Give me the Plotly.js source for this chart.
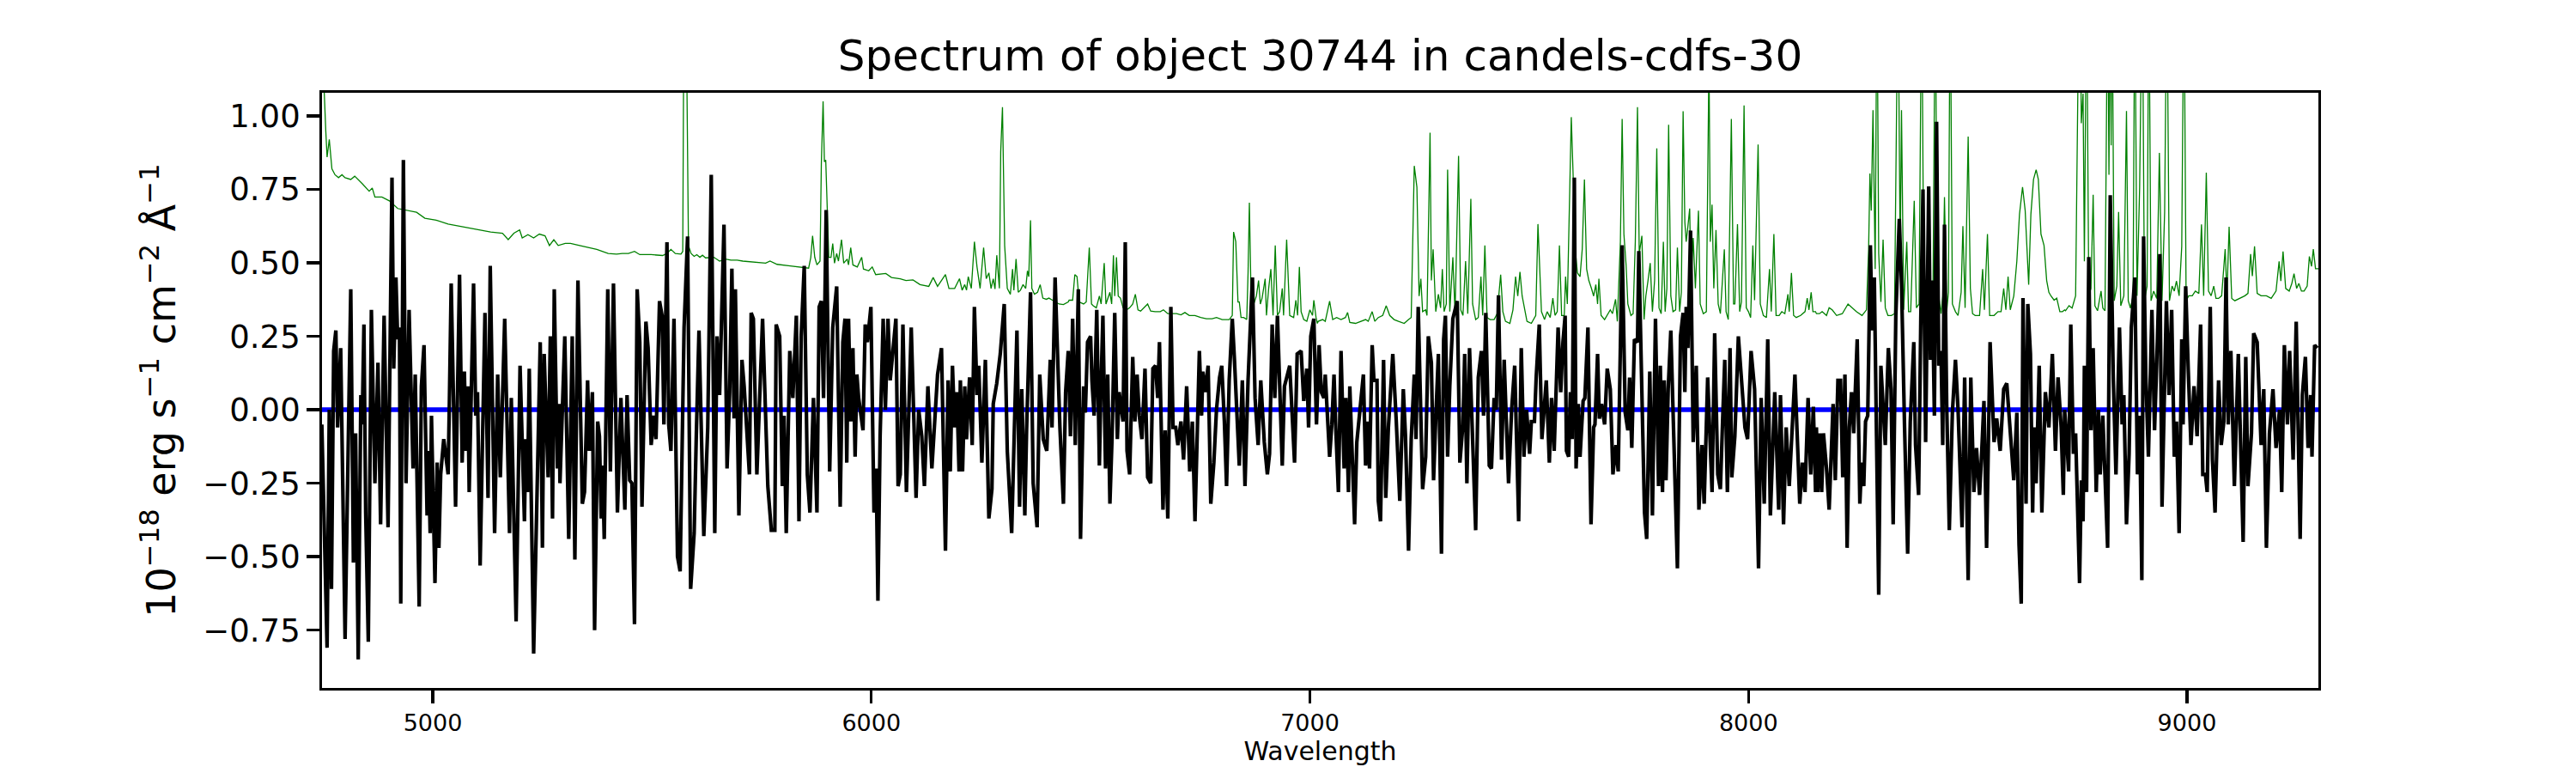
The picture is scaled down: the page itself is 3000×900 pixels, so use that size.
<!DOCTYPE html>
<html>
<head>
<meta charset="utf-8">
<script src="https://cdn.plot.ly/plotly-3.0.1.min.js"></script>
<style>html,body{margin:0;padding:0;background:#fff;}#chart{width:3000px;height:900px;}</style>
</head>
<body>
<div id="chart"></div>
<script>
// ---- data ----
const titleText = "Spectrum of object 30744 in candels-cdfs-30";
const xTickVals = [5000, 6000, 7000, 8000, 9000];
const yTickVals = [-0.75, -0.5, -0.25, 0, 0.25, 0.5, 0.75, 1.0];

// zero-level model (blue)
const modelWave = [4747, 9300];
const modelFlux = [0, 0];

// observed flux (black)
const fluxWave = [
4747,4759,4764,4769,4774,4779,4783,4790,4800,4807,
4813,4819,4824,4830,4836,4839,4843,4847,4853,4860,
4868,4875,4881,4889,4898,4907,4911,4916,4920,4924,
4927,4933,4939,4946,4955,4960,4969,4974,4980,4987,
4990,4994,4997,5005,5010,5014,5018,5025,5035,5038,
5042,5052,5061,5067,5072,5076,5080,5083,5093,5098,
5102,5108,5119,5126,5131,5141,5148,5154,5164,5175,
5179,5190,5199,5209,5212,5216,5220,5230,5245,5250,
5254,5263,5268,5273,5277,5284,5288,5290,5301,5310,
5318,5324,5331,5341,5346,5353,5357,5364,5369,5376,
5380,5384,5387,5391,5399,5405,5412,5421,5429,5438,
5443,5449,5454,5460,5466,5472,5477,5486,5491,5498,
5504,5509,5517,5523,5527,5534,5538,5543,5550,5558,
5564,5573,5581,5588,5596,5601,5607,5618,5627,5635,
5643,5648,5654,5664,5671,5677,5682,5687,5690,5698,
5705,5710,5714,5722,5726,5731,5739,5752,5764,5772,
5780,5783,5791,5797,5801,5806,5814,5821,5829,5835,
5840,5847,5854,5860,5868,5876,5881,
5886,5891,5897,5905,5912,5921,5929,5935,5940,5944,
5948,5953,5958,5963,5967,5971,5981,5986,5991,5999,
6006,6011,6015,6020,6027,6032,6038,6043,6049,6056,
6061,6066,6072,6080,6091,6102,6108,6115,6121,6129,
6138,6143,6151,6160,6169,6175,6180,6185,6190,6195,
6200,6203,6208,6213,6217,6224,6230,6235,6241,6245,
6252,6260,6268,6275,6278,6286,6294,6303,6310,6320,
6332,6338,6343,6350,6354,6363,6369,6378,6384,6392,
6400,6408,6412,6419,6430,6438,6443,6449,
6454,6459,6465,6472,6477,6484,6488,6493,6500,6503,
6508,6514,6520,6523,6528,6534,6539,6544,6549,6555,
6561,6565,6574,6579,6583,6589,6596,6601,6606,6611,
6617,6624,6630,6637,6642,6648,6653,6657,6665,6670,
6676,6683,6688,6694,6699,6706,6712,6719,6726,6732,
6738,6748,6753,6756,6761,6768,6774,6781,6787,6794,
6799,6805,6810,6816,6823,6828,6833,6839,6846,6852,
6859,6869,6875,6882,6888,6896,6903,6908,6914,6920,
6926,6931,6937,6942,6954,6965,6971,6980,6986,6993,
6997,7002,7009,7015,
7021,7026,7032,7035,7045,7050,7055,7059,7065,7071,
7078,7082,7088,7091,7102,7107,7116,7122,7127,7131,
7136,7142,7146,7153,7156,7161,7168,7173,7179,7189,
7197,7205,7213,7218,7225,7231,7238,7242,7247,7253,
7257,7264,7270,7277,7282,7287,7293,7300,7305,7309,
7314,7319,7326,7331,7336,7342,7349,7353,7358,7364,
7371,7378,7384,7391,7396,7401,7409,7414,7420,7425,
7430,7437,7443,7453,7460,7467,7476,7482,7488,7494,
7501,7505,7512,7516,7523,7529,7539,7546,7551,7557,
7566,7572,7577,7582,7585,
7590,7594,7598,7603,7607,7612,7616,7623,7627,7634,
7641,7647,7650,7656,7660,7665,7672,7678,7685,7691,
7698,7703,7708,7712,7719,7725,7729,7734,7740,7747,
7750,7755,7763,7768,7775,7781,7788,7795,7799,7804,
7808,7812,7817,7823,7830,7838,7845,7851,7855,7858,
7862,7868,7874,7881,7887,7894,7899,7907,7917,7923,
7930,7936,7941,7946,7952,7958,7962,7969,7977,7985,
7992,7998,8006,8014,8023,8029,8036,8044,8050,8060,
8069,8073,8080,8086,8093,8106,8117,8123,8129,8136,
8142,8148,8153,
8155,8158,8163,8167,8171,8178,8184,8193,8198,8204,
8210,8215,8220,8225,8230,8235,8240,8248,8254,8258,
8263,8267,8272,8278,8282,8287,8292,8297,8302,8306,
8312,8319,8325,8330,8336,8344,8349,8356,8363,8369,
8377,8381,8388,8393,8398,8404,8411,8415,8419,8424,
8429,8434,8439,8443,8447,8452,8458,8465,8472,8478,
8487,8493,8501,8507,8514,8520,8527,8532,8537,8543,
8551,8560,8566,8574,8582,8589,8597,8605,8612,8617,
8622,8626,8633,8637,8643,8648,8651,8656,8663,8669,
8677,8685,8693,8700,8706,8713,8718,8721,
8726,8730,8735,8741,8746,8751,8755,8759,8763,8766,
8771,8776,8781,8786,8789,8793,8798,8802,8808,8813,
8819,8825,8832,8838,8846,8852,8856,8862,8868,8873,
8881,8887,8892,8897,8901,8906,8912,8920,8926,8931,
8938,8943,8949,8953,8959,8965,8971,8976,8982,8988,
8991,8997,9003,9009,9016,9023,9031,9036,9042,9046,
9053,9058,9064,9072,9078,9084,9089,9094,9100,9108,
9117,9123,9128,9134,9139,9147,9152,9160,9169,9175,
9181,9188,9196,9203,9211,9216,9222,9229,9234,9242,
9249,9258,9263,9270,9276,9282,9285,9291,9297
];
const fluxValues = [
-0.05,-0.81,0.00,-0.61,0.20,0.27,-0.06,0.21,-0.78,-0.06,
0.41,-0.52,-0.08,-0.85,0.05,-0.05,0.29,-0.35,-0.79,0.34,
-0.25,0.16,-0.39,0.32,-0.40,0.79,0.14,0.45,0.24,0.28,
-0.66,0.85,-0.25,0.34,-0.20,0.12,-0.67,0.08,0.22,-0.36,
-0.14,-0.42,-0.02,-0.59,-0.18,-0.47,-0.22,-0.10,-0.22,0.04,
0.43,-0.33,0.46,-0.18,0.13,-0.14,0.08,-0.28,0.43,-0.02,
0.06,-0.53,0.33,-0.30,0.49,-0.42,0.12,-0.23,0.31,-0.42,
0.04,-0.72,0.15,-0.38,-0.10,-0.28,0.14,-0.83,0.23,-0.47,
0.19,-0.23,0.25,-0.37,0.41,-0.20,0.02,-0.25,0.25,-0.44,
0.25,-0.51,0.44,-0.32,-0.28,0.10,-0.14,0.06,-0.75,-0.04,
-0.09,-0.37,-0.19,-0.44,0.41,-0.21,0.43,-0.35,0.04,-0.34,
0.05,-0.24,-0.25,-0.73,0.41,0.23,-0.33,0.30,0.21,-0.12,
-0.02,-0.10,0.37,0.32,-0.05,0.57,-0.05,-0.14,0.31,-0.50,
-0.55,0.28,0.59,-0.61,-0.42,-0.08,0.27,-0.43,-0.06,0.80,
-0.42,0.25,0.05,0.63,-0.20,0.06,0.48,-0.03,0.41,-0.36,
0.17,0.08,-0.04,-0.22,0.33,0.31,-0.22,0.31,-0.26,-0.41,
-0.41,0.29,0.25,-0.26,-0.02,-0.42,0.20,0.04,0.32,-0.38,
0.25,0.49,-0.22,-0.35,0.04,-0.35,0.35,
0.37,0.04,0.68,-0.21,0.28,0.42,-0.33,0.23,0.31,-0.18,
0.31,-0.04,0.21,-0.16,0.12,0.04,-0.07,0.29,0.23,0.35,
-0.35,-0.20,-0.65,-0.09,0.31,0.00,0.31,0.10,0.21,0.31,
-0.26,-0.22,0.29,-0.28,0.28,-0.30,0.00,-0.09,-0.26,0.08,
-0.20,-0.09,0.12,0.21,-0.48,0.10,-0.21,0.15,-0.06,0.06,
-0.21,0.10,-0.21,0.08,-0.10,0.11,-0.12,0.35,0.05,0.15,
-0.18,0.17,-0.37,-0.27,0.02,0.09,0.19,0.36,-0.14,-0.42,
0.27,-0.33,0.07,-0.36,-0.07,0.40,-0.25,-0.40,0.12,-0.10,
-0.14,0.17,-0.06,0.45,-0.06,-0.32,0.06,0.20,
-0.09,0.31,-0.12,0.41,-0.44,0.08,-0.01,0.23,0.25,0.10,
-0.02,0.34,-0.19,0.04,0.32,-0.20,0.12,-0.32,-0.09,0.33,
-0.10,0.06,-0.04,0.57,-0.14,-0.22,0.18,-0.04,0.12,-0.02,
-0.10,0.14,-0.23,-0.25,0.14,0.15,0.04,0.23,-0.34,-0.07,
-0.37,0.35,-0.06,-0.06,-0.12,-0.04,-0.17,0.08,-0.21,-0.04,
-0.38,0.20,-0.02,0.13,0.06,0.15,-0.32,-0.18,0.00,0.11,
0.15,-0.04,-0.26,0.10,0.31,0.17,0.00,-0.19,0.10,-0.26,
0.10,0.45,0.04,-0.12,0.10,-0.11,-0.22,-0.15,0.29,0.04,
0.32,0.04,-0.19,0.08,0.15,-0.18,0.19,0.20,0.03,0.14,
-0.06,0.25,0.31,-0.05,
0.22,0.06,0.04,0.12,-0.16,-0.05,0.12,-0.06,-0.28,0.20,
-0.20,0.04,-0.28,0.08,-0.39,-0.11,0.02,0.12,-0.19,-0.04,
-0.20,0.22,0.10,0.10,-0.31,-0.38,0.17,-0.30,-0.06,0.19,
-0.04,-0.31,0.07,-0.09,-0.48,-0.10,0.12,-0.10,0.35,-0.06,
-0.27,-0.16,0.25,0.16,-0.24,-0.03,0.19,-0.49,0.24,0.32,
-0.16,0.08,0.31,0.34,0.37,-0.18,-0.05,0.19,-0.25,0.21,
-0.10,-0.41,0.11,0.20,-0.02,0.33,-0.19,-0.20,0.04,0.00,
0.39,-0.17,0.17,-0.25,0.00,0.15,-0.38,0.21,-0.16,0.00,
-0.15,-0.04,-0.04,0.11,0.29,-0.10,0.10,-0.18,0.04,-0.14,
0.28,0.06,0.23,0.32,-0.14,
-0.16,0.06,-0.10,0.79,-0.20,0.02,-0.16,0.03,0.04,0.28,
-0.39,-0.06,-0.05,0.19,-0.03,0.02,-0.05,0.14,0.07,-0.22,
-0.12,-0.21,0.28,0.56,-0.01,-0.07,0.11,-0.13,0.24,0.23,
0.54,0.19,-0.35,-0.44,0.13,-0.36,0.31,-0.26,0.15,-0.28,
0.10,-0.24,0.07,0.27,-0.12,-0.54,0.25,0.33,0.06,0.35,
0.21,0.61,-0.11,0.15,-0.34,-0.12,-0.32,0.11,-0.28,0.26,
-0.22,-0.27,-0.04,0.17,-0.28,0.21,-0.23,-0.09,0.25,0.08,
-0.06,-0.10,0.20,0.07,-0.54,0.04,-0.32,0.24,-0.36,0.06,
-0.34,0.05,-0.39,-0.06,-0.26,0.12,-0.32,-0.18,-0.28,0.04,
-0.22,0.01,-0.28,
-0.06,-0.28,-0.08,-0.28,-0.08,-0.20,-0.34,0.02,-0.24,0.10,
0.10,-0.23,0.12,-0.47,-0.06,0.06,-0.08,0.24,-0.32,-0.18,
-0.26,-0.04,-0.02,0.56,0.27,0.45,-0.09,-0.63,0.15,0.02,
-0.12,0.21,0.07,-0.39,0.32,0.65,0.43,-0.06,-0.49,-0.04,
0.23,-0.12,-0.29,0.31,0.75,-0.11,0.76,0.17,0.44,-0.02,
0.98,0.15,0.20,-0.12,0.63,0.02,-0.41,-0.01,0.17,0.00,
-0.40,0.11,-0.58,0.11,-0.28,-0.13,-0.29,-0.14,0.03,-0.47,
0.23,-0.11,-0.03,-0.14,0.07,0.09,-0.09,-0.24,-0.01,-0.46,
-0.66,0.38,-0.32,0.36,0.19,-0.35,-0.06,-0.25,0.15,-0.35,
0.06,-0.06,0.19,-0.14,0.11,-0.06,-0.29,0.00,
-0.11,-0.21,0.29,-0.15,-0.08,-0.37,-0.59,-0.24,-0.38,0.15,
-0.28,0.52,-0.07,0.21,-0.07,-0.28,0.00,-0.22,-0.02,-0.22,
-0.47,0.73,0.10,-0.22,0.28,-0.05,0.05,-0.39,-0.15,0.28,
0.45,-0.22,-0.02,-0.58,0.59,0.12,-0.16,0.34,-0.07,0.16,
0.53,-0.33,0.19,0.37,0.05,0.34,-0.16,-0.04,-0.42,0.24,
-0.05,0.42,0.13,-0.12,0.08,-0.09,0.29,-0.22,-0.22,-0.28,
0.35,-0.17,-0.35,0.10,-0.12,-0.04,0.45,-0.05,0.20,-0.26,
0.19,-0.17,-0.45,0.18,-0.26,-0.08,0.26,0.23,-0.12,0.07,
-0.47,-0.08,0.07,-0.13,0.00,-0.28,0.22,-0.05,0.20,-0.17,
0.30,-0.44,0.05,0.18,-0.13,0.05,-0.16,0.22,0.21
];

// noise / sky spectrum (green)
const noiseWave = [
4747,4752,4756,4759,4764,4770,4777,4785,4793,4800,
4813,4822,4839,4855,4862,4868,4884,4901,4920,4943,
4963,4982,5008,5035,5061,5087,5113,5132,5159,5172,
5185,5198,5204,5217,5230,5243,5256,5266,5276,5286,
5302,5314,
5335,5354,5374,5400,5419,5432,5446,5460,5472,5498,
5524,5534,5543,5553,5566,5570,5573,5575,5577,5583,
5589,5596,5602,5609,5615,5622,5632,5641,5654,5667,
5680,5694,5707,5733,5759,5769,5785,5811,5837,5857,
5862,5866,5871,5876,
5883,5886,5890,5893,5896,5899,5903,5908,5912,5916,
5921,5925,5932,5937,5945,5948,5953,5958,5968,5978,
5982,5994,6002,6010,6033,6046,6066,6079,6095,6111,
6131,6141,6151,6169,6177,6190,6201,6207,6213,6217,
6221,6228,6235,6241,6245,6248,6256,6262,6268,6273,
6278,6282,6286,6292,6295,6299,6304,6310,6317,6322,
6325,6330,6335,6340,6346,6352,6356,6359,6363,6366,
6372,6379,6385,6391,6399,6405,6413,6421,6428,6438,
6449,
6451,6459,6464,6469,6474,6484,6490,6497,6502,6506,
6513,6520,6524,6531,6535,6539,6544,6548,6552,6555,
6559,6563,6568,6574,6582,6589,6596,6602,6608,6614,
6622,6630,6637,6647,6659,6666,6676,6686,6696,6706,
6715,6725,6738,6751,6764,6777,6787,6800,6816,6823,
6826,6831,6836,6839,6843,6849,6856,6859,6862,6866,
6872,6878,6883,6887,6891,6898,6901,6906,6911,6916,
6921,6926,6931,6937,6940,6947,6954,6963,6968,6972,
6976,6980,6986,6993,7000,7006,7009,7014,7017,
7019,7029,7035,7045,7052,7061,7071,7081,7086,7091,
7104,7117,7127,7133,7142,7148,7156,7166,7174,7182,
7192,7202,7215,7225,7231,7238,7244,7249,7253,7257,
7264,7267,7274,7277,7281,7287,7293,7298,7302,7306,
7311,7314,7319,7326,7331,7339,7344,7349,7355,7360,
7367,7371,7378,7384,7390,7394,7399,7404,7411,7420,
7427,7435,7440,7446,7456,7463,7469,7474,7479,7484,
7489,7495,7505,7515,7520,7525,7528,7535,7541,7548,
7554,7559,7564,7569,7574,7580,7583,
7587,7592,7596,7600,7605,7610,7616,7621,7626,7631,
7636,7642,7647,7652,7656,7659,7664,7672,7678,7685,
7690,7697,7701,7708,7712,7716,7721,7725,7732,7737,
7742,7747,7751,7757,7762,7766,7771,7776,7781,7786,
7791,7796,7801,7806,7810,7814,7818,7823,7828,7834,
7838,7843,7847,7851,7855,7858,7862,7866,7869,7874,
7879,7886,7890,7897,7904,7907,7910,7913,7917,7921,
7926,7931,7936,7945,7949,7954,7961,7966,7969,7975,
7980,7984,7990,7995,8000,8005,8010,8014,8022,8027,
8034,8041,8048,8052,8058,8063,8070,8076,8083,8090,
8093,8098,8103,8109,8119,8129,8134,8138,8143,8147,
8153,
8155,8162,8168,8178,8184,8191,8201,8214,8227,8237,
8246,8259,8269,8274,8277,8280,8284,8289,8293,8297,
8302,8307,8312,8318,8326,8333,8338,8341,8346,8349,
8354,8361,8365,8370,8378,8383,8389,8395,8400,8406,
8411,8416,8421,8426,8430,8434,8439,8443,8447,8452,
8456,8460,8465,8472,8478,8485,8489,8494,8501,8506,
8511,8517,8527,8534,8538,8545,8550,8560,8569,8576,
8582,8587,8592,8597,8605,8612,8618,8625,8631,8639,
8644,8650,8656,8661,8667,8674,8680,8685,8690,8697,
8703,8710,8716,8721,
8723,8731,8738,8746,8751,8756,8759,8763,8766,8771,
8776,8781,8786,8790,8796,8804,8808,8813,8819,8822,
8825,8827,8829,8834,8840,8844,8849,8856,8862,8866,
8871,8877,8881,8886,8892,8898,8903,8909,8913,8918,
8924,8931,8937,8943,8949,8954,8960,8966,8971,8976,
8982,8988,8993,8998,9004,9012,9019,9027,9033,9038,
9044,9049,9055,9061,9066,9072,9079,9087,9091,9096,
9102,9109,9121,9132,9139,9145,9149,9154,9160,9169,
9181,9192,9203,9210,9214,9219,9225,9233,9239,9244,
9250,9255,9261,9267,9274,9279,9284,9288,9293,9300
];
const noiseValues = [
1.5,1.1,0.95,0.86,0.92,0.82,0.80,0.79,0.80,0.79,
0.784,0.795,0.77,0.744,0.755,0.724,0.724,0.711,0.685,0.678,
0.672,0.652,0.645,0.632,0.625,0.619,0.612,0.605,0.601,0.579,
0.601,0.612,0.585,0.596,0.585,0.598,0.592,0.559,0.579,0.559,
0.566,0.566,
0.559,0.552,0.546,0.532,0.530,0.532,0.532,0.539,0.528,0.528,
0.525,0.532,0.546,0.532,0.530,0.539,1.5,1.2,1.5,0.559,
0.532,0.522,0.528,0.519,0.526,0.517,0.519,0.519,0.506,0.513,
0.509,0.509,0.506,0.503,0.499,0.506,0.495,0.490,0.486,0.482,
0.519,0.592,0.519,0.493,
0.506,0.837,1.05,0.844,0.85,0.705,0.519,0.519,0.566,0.499,
0.532,0.506,0.579,0.499,0.513,0.493,0.552,0.493,0.486,0.519,
0.479,0.473,0.486,0.460,0.464,0.450,0.446,0.440,0.442,0.426,
0.420,0.450,0.420,0.460,0.413,0.413,0.446,0.407,0.426,0.407,
0.453,0.413,0.572,0.486,0.440,0.413,0.552,0.446,0.466,0.413,
0.446,0.411,0.526,0.413,0.877,1.03,0.559,0.413,0.393,0.479,
0.407,0.513,0.400,0.407,0.426,0.413,0.473,0.453,0.645,0.413,
0.393,0.400,0.426,0.380,0.376,0.380,0.373,0.367,0.360,0.358,
0.367,
0.373,0.373,0.460,0.453,0.367,0.360,0.367,0.552,0.360,0.354,
0.347,0.387,0.360,0.499,0.360,0.380,0.400,0.360,0.526,0.387,
0.519,0.387,0.380,0.347,0.340,0.347,0.360,0.393,0.340,0.336,
0.347,0.360,0.336,0.334,0.334,0.340,0.327,0.327,0.327,0.323,
0.331,0.321,0.321,0.314,0.310,0.310,0.314,0.307,0.307,0.321,
0.605,0.572,0.367,0.367,0.314,0.314,0.307,0.466,0.705,0.373,
0.360,0.387,0.440,0.360,0.380,0.446,0.321,0.413,0.479,0.321,
0.559,0.321,0.334,0.413,0.321,0.579,0.321,0.314,0.373,0.321,
0.486,0.334,0.307,0.301,0.340,0.321,0.373,0.314,0.294,
0.301,0.307,0.301,0.370,0.307,0.314,0.307,0.314,0.331,0.297,
0.294,0.301,0.307,0.301,0.334,0.301,0.314,0.321,0.354,0.321,
0.307,0.301,0.294,0.307,0.314,0.830,0.758,0.387,0.446,0.334,
0.340,0.321,0.943,0.440,0.546,0.334,0.393,0.347,0.479,0.334,
0.360,0.817,0.334,0.519,0.327,0.864,0.340,0.321,0.506,0.327,
0.718,0.360,0.307,0.314,0.453,0.321,0.559,0.314,0.307,0.307,
0.327,0.460,0.334,0.301,0.294,0.340,0.453,0.387,0.469,0.387,
0.347,0.301,0.294,0.321,0.632,0.413,0.334,0.307,0.334,0.314,
0.380,0.321,0.334,0.559,0.321,0.321,0.453,
0.360,0.678,0.996,0.810,0.546,0.466,0.453,0.546,0.784,0.479,
0.440,0.413,0.387,0.426,0.360,0.446,0.321,0.307,0.321,0.340,
0.327,0.376,0.301,0.572,0.990,0.598,0.493,0.360,0.321,0.327,
0.572,1.03,0.532,0.592,0.307,0.387,0.440,0.499,0.334,0.440,
0.890,0.347,0.327,0.572,0.334,0.413,0.970,0.387,0.334,0.340,
0.552,0.334,0.400,1.016,0.638,0.572,0.625,0.685,0.426,0.585,
0.413,0.678,0.360,0.327,0.334,0.665,1.2,0.572,0.698,0.413,
0.612,0.360,0.327,0.546,0.334,0.307,0.990,0.360,0.360,0.632,
0.334,0.367,1.036,0.347,0.334,0.314,0.559,0.373,0.903,0.360,
0.321,0.314,0.479,0.334,0.598,0.321,0.321,0.334,0.327,0.393,
0.334,0.466,0.321,0.314,0.321,0.334,0.380,0.340,0.400,0.334,
0.334,
0.327,0.327,0.334,0.321,0.347,0.340,0.321,0.327,0.360,0.347,
0.334,0.321,0.340,0.546,0.804,0.678,1.02,0.479,1.5,0.532,
0.367,0.579,0.347,0.321,0.321,0.327,0.877,1.5,0.519,1.02,
0.340,0.572,0.334,0.334,0.711,0.347,0.360,1.5,0.360,0.440,
0.758,0.387,0.440,1.5,0.506,0.387,0.327,0.387,0.724,0.334,
0.400,1.5,0.360,0.334,0.321,0.400,0.625,0.347,0.930,0.413,
0.327,0.321,0.321,0.479,0.340,0.598,0.321,0.321,0.334,0.334,
0.413,0.340,0.453,0.340,0.387,0.506,0.665,0.758,0.678,0.426,
0.665,0.784,0.817,0.784,0.598,0.559,0.440,0.400,0.387,0.373,
0.380,0.334,0.334,0.340,
0.337,0.354,0.346,0.388,1.076,1.5,0.975,1.076,0.505,1.5,
0.388,0.413,0.732,0.354,0.337,0.404,0.346,0.337,1.5,0.8,
1.5,0.9,1.5,0.371,0.421,0.673,0.354,0.388,1.017,0.371,
0.346,0.388,1.5,0.388,0.757,1.5,0.371,0.421,1.5,0.371,
0.404,0.379,0.874,0.371,0.673,1.5,0.371,0.421,0.404,0.438,
0.388,0.556,1.5,0.371,0.388,0.388,0.404,0.396,0.631,0.388,
0.807,0.404,0.388,0.421,0.379,0.379,0.388,0.547,0.388,0.623,
0.379,0.371,0.379,0.388,0.396,0.530,0.455,0.556,0.396,0.388,
0.388,0.379,0.404,0.505,0.438,0.539,0.413,0.404,0.430,0.463,
0.413,0.430,0.404,0.404,0.421,0.522,0.488,0.547,0.480,0.480
];

// ---- chart ----
const FONT = "DejaVu Sans, Verdana, sans-serif";
const traces = [
  {x: modelWave, y: modelFlux, type: "scatter", mode: "lines",
   line: {color: "#0000ff", width: 5.5}, hoverinfo: "skip"},
  {x: noiseWave, y: noiseValues, type: "scatter", mode: "lines",
   line: {color: "#008000", width: 1.3}, hoverinfo: "skip"},
  {x: fluxWave, y: fluxValues, type: "scatter", mode: "lines",
   line: {color: "#000000", width: 4.2}, hoverinfo: "skip"}
];

const layout = {
  width: 3000, height: 900,
  margin: {l: 375, r: 300, t: 108, b: 99, pad: 0},
  paper_bgcolor: "#ffffff", plot_bgcolor: "#ffffff",
  showlegend: false,
  font: {family: FONT, color: "#000000"},
  title: {
    text: titleText,
    font: {family: FONT, size: 50, color: "#000000"},
    x: 0.5125, xref: "container", xanchor: "center",
    y: 1 - 64 / 900, yref: "container", yanchor: "middle"
  },
  xaxis: {
    range: [4747.4, 9299.6],
    tickmode: "array", tickvals: xTickVals,
    ticks: "outside", ticklen: 14.6, tickwidth: 3.3, tickcolor: "#000",
    showline: true, linewidth: 3.3, linecolor: "#000", mirror: true,
    showgrid: false, zeroline: false,
    tickfont: {family: FONT, size: 27, color: "#000"},
    title: {text: "Wavelength", font: {family: FONT, size: 30, color: "#000"}, standoff: 6},
    automargin: false
  },
  yaxis: {
    range: [-0.947, 1.079],
    tickmode: "array", tickvals: yTickVals, tickformat: ".2f",
    ticks: "outside", ticklen: 14.6, tickwidth: 3.3, tickcolor: "#000",
    showline: true, linewidth: 3.3, linecolor: "#000", mirror: true,
    showgrid: false, zeroline: false,
    tickfont: {family: FONT, size: 37, color: "#000"},
    title: {text: "10<sup>−18</sup> erg s<sup>−1</sup> cm<sup>−2</sup> Å<sup>−1</sup>",
            font: {family: FONT, size: 46, color: "#000"}, standoff: 18},
    automargin: false
  }
};

Plotly.newPlot("chart", traces, layout, {displayModeBar: false, staticPlot: true});
</script>
</body>
</html>
